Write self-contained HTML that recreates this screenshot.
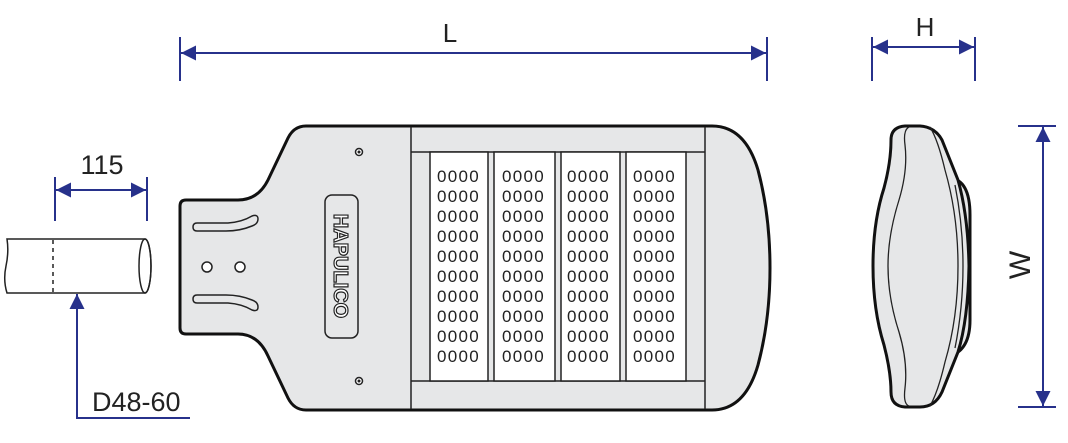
<!DOCTYPE html>
<html><head><style>html,body{margin:0;padding:0;background:#fff}svg{display:block}</style></head>
<body>
<svg width="1068" height="443" viewBox="0 0 1068 443" xmlns="http://www.w3.org/2000/svg" font-family="Liberation Sans, Arial, sans-serif">
<defs>
<marker id="a" viewBox="0 0 10 10" refX="10" refY="5" markerWidth="20" markerHeight="15" markerUnits="userSpaceOnUse" orient="auto-start-reverse"><path d="M0,0 L10,5 L0,10 z" fill="#27318b"/></marker>
</defs>
<g stroke="#27318b" stroke-width="2" fill="none">
<line x1="180" y1="37" x2="180" y2="81"/><line x1="767" y1="37" x2="767" y2="81"/>
<line x1="181" y1="53" x2="766" y2="53" marker-start="url(#a)" marker-end="url(#a)"/>
<line x1="872" y1="37" x2="872" y2="81"/><line x1="975" y1="37" x2="975" y2="81"/>
<line x1="873" y1="47" x2="974" y2="47" marker-start="url(#a)" marker-end="url(#a)"/>
<line x1="1018" y1="126" x2="1056" y2="126"/><line x1="1018" y1="407" x2="1056" y2="407"/>
<line x1="1043" y1="127" x2="1043" y2="406" marker-start="url(#a)" marker-end="url(#a)"/>
<line x1="55" y1="177" x2="55" y2="221"/><line x1="147" y1="177" x2="147" y2="221"/>
<line x1="56" y1="190" x2="146" y2="190" marker-start="url(#a)" marker-end="url(#a)"/>
<polyline points="190,418 77,418 77,294" marker-end="url(#a)"/>
</g>
<g fill="#222" font-size="26">
<text x="450" y="42" text-anchor="middle">L</text>
<text x="925" y="36" text-anchor="middle">H</text>
<text x="102" y="174" text-anchor="middle" font-size="27">115</text>
<text x="92" y="411" font-size="27">D48-60</text>
<text transform="translate(1030,265) rotate(-90)" text-anchor="middle" font-size="30">W</text>
</g>
<g stroke="#222" stroke-width="1.5" fill="#fff">
<path d="M7,239 L145,239 A6,27 0 0 1 145,293 L7,293 Q3,280 6,266 Q9,252 7,239 z"/>
<ellipse cx="145" cy="266" rx="6" ry="27" fill="none"/>
<line x1="53" y1="240" x2="53" y2="292" stroke-dasharray="4,4"/>
</g>
<path d="M186,200 L238,200 Q258,200 268,180 L288,138 Q294,126 306,126 L712,126 Q745,126 758,170 Q770,215 770,268 Q770,320 758,365 Q745,410 712,410 L306,410 Q294,410 288,398 L268,356 Q258,334 238,334 L186,334 Q180,334 180,328 L180,206 Q180,200 186,200 z" fill="#e6e7e8" stroke="#111" stroke-width="3"/>
<g stroke="#222" stroke-width="1.5" fill="none">
<line x1="411" y1="127" x2="411" y2="409"/><line x1="705" y1="127" x2="705" y2="409"/>
<line x1="411" y1="152" x2="705" y2="152"/><line x1="411" y1="381" x2="705" y2="381"/>
</g>
<g fill="#fff" stroke="#222" stroke-width="1.5">
<rect x="430" y="152" width="58" height="229"/>
<rect x="494" y="152" width="61" height="229"/>
<rect x="561" y="152" width="59" height="229"/>
<rect x="626" y="152" width="60" height="229"/>
</g>
<g fill="#222" font-size="17" letter-spacing="1.3">
<text x="437" y="182">0000</text><text x="502" y="182">0000</text><text x="567" y="182">0000</text><text x="633" y="182">0000</text>
<text x="437" y="202">0000</text><text x="502" y="202">0000</text><text x="567" y="202">0000</text><text x="633" y="202">0000</text>
<text x="437" y="222">0000</text><text x="502" y="222">0000</text><text x="567" y="222">0000</text><text x="633" y="222">0000</text>
<text x="437" y="242">0000</text><text x="502" y="242">0000</text><text x="567" y="242">0000</text><text x="633" y="242">0000</text>
<text x="437" y="262">0000</text><text x="502" y="262">0000</text><text x="567" y="262">0000</text><text x="633" y="262">0000</text>
<text x="437" y="282">0000</text><text x="502" y="282">0000</text><text x="567" y="282">0000</text><text x="633" y="282">0000</text>
<text x="437" y="302">0000</text><text x="502" y="302">0000</text><text x="567" y="302">0000</text><text x="633" y="302">0000</text>
<text x="437" y="322">0000</text><text x="502" y="322">0000</text><text x="567" y="322">0000</text><text x="633" y="322">0000</text>
<text x="437" y="342">0000</text><text x="502" y="342">0000</text><text x="567" y="342">0000</text><text x="633" y="342">0000</text>
<text x="437" y="362">0000</text><text x="502" y="362">0000</text><text x="567" y="362">0000</text><text x="633" y="362">0000</text>
</g>
<rect x="325" y="195" width="33" height="143" rx="7" fill="none" stroke="#222" stroke-width="1.5"/>
<text transform="translate(334,266) rotate(90)" text-anchor="middle" font-size="20" font-weight="bold" fill="#fff" stroke="#222" stroke-width="1.2">HAPULICO</text>
<g stroke="#222" stroke-width="1.5" fill="#fff">
<circle cx="359" cy="152" r="3.5"/><circle cx="359" cy="381" r="3.5"/>
<circle cx="207" cy="267" r="5"/><circle cx="240" cy="267" r="5"/>
</g>
<circle cx="359" cy="152" r="1.5" fill="#222"/><circle cx="359" cy="381" r="1.5" fill="#222"/>
<g stroke="#222" stroke-width="1.5" fill="none">
<path d="M197,223 L228,223 Q242,222 252,216 Q258,214 258,219 Q258,224 252,226 Q240,231 226,231 L197,231 Q193,231 193,227 Q193,223 197,223 z"/>
<path d="M197,303 L228,303 Q242,304 252,310 Q258,312 258,307 Q258,302 252,300 Q240,295 226,295 L197,295 Q193,295 193,299 Q193,303 197,303 z"/>
</g>
<path d="M950,178 Q970,180 970,215 L970,320 Q970,350 950,356 z" fill="#e6e7e8" stroke="#111" stroke-width="3"/>
<path d="M905,126 L920,126 Q935,127 942,140 Q950,160 958,180 Q968,215 969,266 Q968,320 958,352 Q950,372 942,392 Q935,407 920,407 L905,407 Q891,406 891,392 Q891,372 884,345 Q873,310 873,266 Q873,222 884,188 Q891,162 891,140 Q891,127 905,126 z" fill="#e6e7e8" stroke="#111" stroke-width="3"/>
<g stroke="#222" stroke-width="1.3" fill="none">
<path d="M909,127 Q903,130 905,145 Q908,170 899,200 Q888,235 888,266 Q888,298 899,332 Q908,362 905,388 Q903,404 909,406"/>
<path d="M930,127 Q938,140 945,170 Q958,215 958,266 Q958,318 945,362 Q938,392 930,406"/>
<path d="M955,185 Q963,225 963,266 Q963,308 955,348"/>
</g>
</svg>
</body></html>
